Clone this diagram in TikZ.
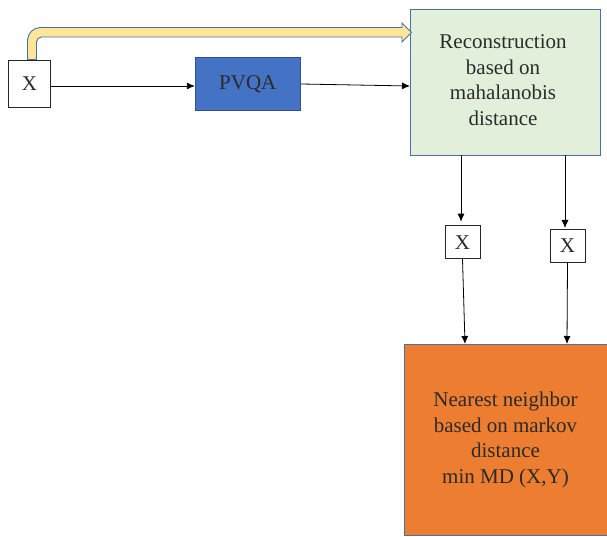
\documentclass[tikz,border=0pt]{standalone}
\usepackage{fontspec}
\setmainfont{Liberation Serif}
\usetikzlibrary{arrows.meta,calc}
\definecolor{txt}{HTML}{2B2B2B}
\definecolor{edge}{HTML}{4A6FA8}
\definecolor{pvqafill}{HTML}{4472C4}
\definecolor{pvqaedge}{HTML}{2F528F}
\definecolor{greenfill}{HTML}{E2EFDA}
\definecolor{orangefill}{HTML}{ED7D31}
\definecolor{yellowfill}{HTML}{FFE699}
\definecolor{wire}{HTML}{555555}
\tikzset{
  x=1pt, y=1pt,
  every node/.style={font=\fontsize{21}{25.5}\selectfont, text=txt, inner sep=0pt},
  xbox/.style={draw=black!85, line width=1pt, fill=white},
  block/.style={draw=edge, line width=0.9pt, align=center},
  link/.style={draw=wire, line width=0.8pt, -{Latex[length=8pt,width=7pt]}, black},
}
\begin{document}
\begin{tikzpicture}
\useasboundingbox (0,0) rectangle (607,-537);

% input and quantiser
\node[xbox, minimum width=42pt, minimum height=47pt] (xin) at (29.5,-83.7) {X};
\node[draw=pvqaedge, line width=0.9pt, fill=pvqafill, minimum width=105pt, minimum height=53pt] (pvqa) at (247.8,-84) {PVQA};

% reconstruction block
\path[block, fill=greenfill] (410,-9) rectangle (600,-155);
\coordinate (green) at (505,-82);
\node[align=center] (greentext) at (503,-80) {Reconstruction\\based on\\mahalanobis\\distance};
\coordinate (greenW) at (410,-86);

% outputs of the reconstruction
\node[xbox, minimum width=35pt, minimum height=33pt] (x1) at (462.5,-242.2) {X};
\node[xbox, minimum width=35pt, minimum height=33pt] (x2) at (567.5,-245.8) {X};

% nearest neighbour block
\path[block, fill=orangefill] (404,-344) rectangle (612,-535.5);
\node[align=center] (nntext) at (505.5,-440) {Nearest neighbor\\based on markov\\distance\\min MD (X,Y)};

% bypass arrow from the input to the reconstruction
\filldraw[fill=yellowfill, draw=edge, line width=0.9pt]
  (27.5,-59.5) -- (27.5,-40.5) arc[start angle=180,end angle=90,radius=13]
  -- (402,-27.5) -- (402,-23) -- (411.5,-32.5) -- (402,-42) -- (402,-37)
  -- (41.5,-37) arc[start angle=90,end angle=180,radius=5] -- (36.5,-59.5) -- cycle;

% connectors
\coordinate (g1) at (461,-155);
\coordinate (g2) at (565,-155);
\coordinate (o1) at (465,-344);
\coordinate (o2) at (567,-344);
\draw[link] (xin.east |- 0,-86) -- (pvqa.west |- 0,-86);
\draw[link] (pvqa.east) -- (greenW);
\draw[link] (g1) -- ($(x1.north)+(-1.5,3.5)$);
\draw[link] (g2) -- ($(x2.north)+(-2.5,0.8)$);
\draw[link] (x1.south) -- (o1);
\draw[link] (x2.south) -- (o2);
\end{tikzpicture}
\end{document}
